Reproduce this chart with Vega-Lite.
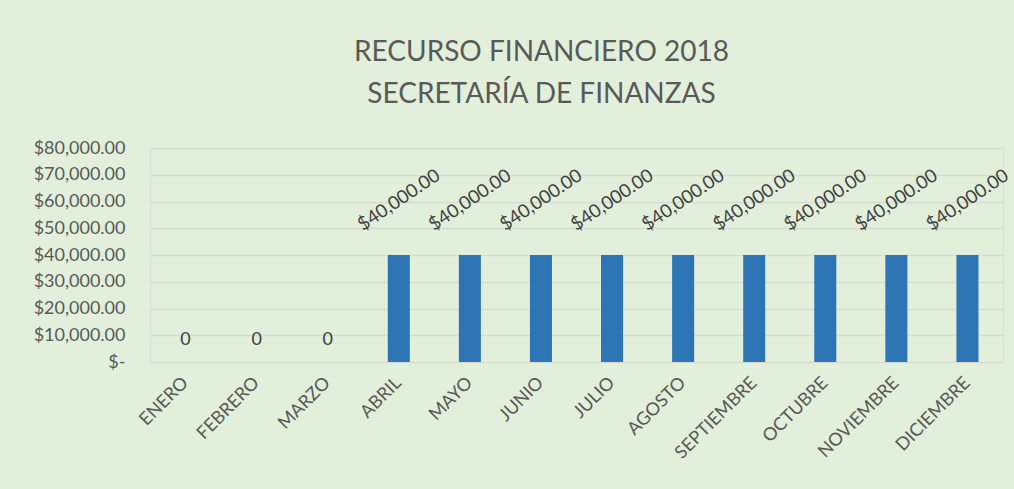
{
  "$schema": "https://vega.github.io/schema/vega-lite/v6.json",
  "autosize": {"type": "none"},
  "padding": {"left": 150, "top": 148, "right": 11, "bottom": 127},
  "width": 853,
  "height": 214,
  "background": "#E2EFDA",
  "title": {
    "text": ["RECURSO FINANCIERO 2018", "SECRETARÍA DE FINANZAS"],
    "font": "Lato",
    "fontSize": 28,
    "fontWeight": "normal",
    "color": "#595959",
    "lineHeight": 42,
    "anchor": "middle",
    "frame": "group",
    "dx": -35,
    "offset": 30
  },
  "data": {
    "values": [
      {"mes": "ENERO", "monto": 0},
      {"mes": "FEBRERO", "monto": 0},
      {"mes": "MARZO", "monto": 0},
      {"mes": "ABRIL", "monto": 40000},
      {"mes": "MAYO", "monto": 40000},
      {"mes": "JUNIO", "monto": 40000},
      {"mes": "JULIO", "monto": 40000},
      {"mes": "AGOSTO", "monto": 40000},
      {"mes": "SEPTIEMBRE", "monto": 40000},
      {"mes": "OCTUBRE", "monto": 40000},
      {"mes": "NOVIEMBRE", "monto": 40000},
      {"mes": "DICIEMBRE", "monto": 40000}
    ]
  },
  "encoding": {
    "x": {
      "field": "mes",
      "type": "nominal",
      "sort": null,
      "scale": {"paddingInner": 0.69, "paddingOuter": 0.345},
      "axis": {
        "title": null,
        "labelAngle": -45,
        "labelAlign": "right",
        "labelBaseline": "middle",
        "labelPadding": 18,
        "ticks": false,
        "domain": false,
        "grid": false,
        "labelFont": "Lato",
        "labelFontSize": 18,
        "labelColor": "#595959"
      }
    },
    "y": {
      "field": "monto",
      "type": "quantitative",
      "scale": {"domain": [0, 80000]},
      "axis": {
        "title": null,
        "values": [0, 10000, 20000, 30000, 40000, 50000, 60000, 70000, 80000],
        "labelExpr": "datum.value === 0 ? '$-' : format(datum.value, '$,.2f')",
        "ticks": false,
        "domain": false,
        "grid": true,
        "gridColor": "#D6DBD3",
        "gridWidth": 1.5,
        "labelPadding": 25,
        "labelFont": "Lato",
        "labelFontSize": 18,
        "labelColor": "#595959"
      }
    }
  },
  "layer": [
    {
      "mark": {"type": "bar", "color": "#2E75B6"}
    },
    {
      "transform": [{"filter": "datum.monto > 0"}],
      "mark": {
        "type": "text",
        "angle": -34,
        "align": "center",
        "baseline": "middle",
        "radius": 55,
        "theta": 0,
        "font": "Lato",
        "fontSize": 18.5,
        "color": "#404040"
      },
      "encoding": {
        "text": {"field": "monto", "type": "quantitative", "format": "$,.2f"}
      }
    },
    {
      "transform": [{"filter": "datum.monto == 0"}],
      "mark": {
        "type": "text",
        "align": "center",
        "baseline": "middle",
        "dy": -22,
        "font": "Lato",
        "fontSize": 18,
        "color": "#404040"
      },
      "encoding": {
        "text": {"field": "monto", "type": "quantitative", "format": "d"}
      }
    }
  ]
}
